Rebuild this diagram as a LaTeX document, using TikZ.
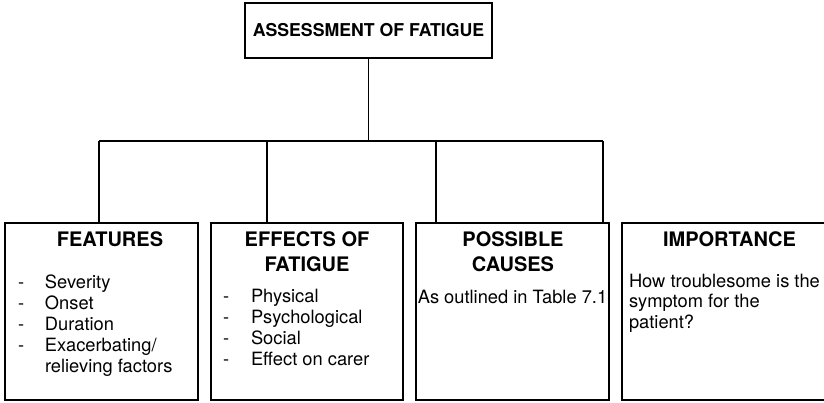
\documentclass[tikz,border=0pt]{standalone}
\usepackage{fontspec}
\setmainfont{TeX Gyre Heros}
\usetikzlibrary{positioning}
\begin{document}
\begin{tikzpicture}[x=1pt,y=-1pt,inner sep=0pt,outer sep=0pt,line width=1.8pt,
topblock/.style={draw,rectangle,minimum width=247pt,minimum height=55pt,font=\fontsize{17.7}{20}\selectfont\bfseries},
catblock/.style={draw,rectangle,minimum height=177pt,anchor=north west},
heading/.style={anchor=north,align=center,font=\fontsize{20}{25.5}\selectfont\bfseries},
itemlist/.style={anchor=north west,align=left,font=\fontsize{18.3}{21}\selectfont}]
\useasboundingbox (0,0) rectangle (824,402);
\node[topblock] (top) at (368.5,30.5) {ASSESSMENT OF FATIGUE};
\node[catblock,minimum width=193pt] (feat) at (5,223) {};
\node[catblock,minimum width=192pt] (eff) at (211,223) {};
\node[catblock,minimum width=193pt] (caus) at (416,223) {};
\node[catblock,minimum width=215pt] (imp) at (622,223) {};
% branches
\coordinate (b1) at (99,141);
\coordinate (b2) at (267,141);
\coordinate (b3) at (436,141);
\coordinate (b4) at (603,141);
\draw (top) -- (top |- b1);
\draw (b1) -- (b4);
\draw (b1) -- (b1 |- feat.north);
\draw (b2) -- (b2 |- eff.north);
\draw (b3) -- (b3 |- caus.north);
\draw (b4) -- (b4 |- imp.north);
% headings
\node[heading] (featH) at (110,231.6) {FEATURES};
\node[heading] (effH) at (307,231.6) {EFFECTS OF\\FATIGUE};
\node[heading] (causH) at (513,231.6) {POSSIBLE\\CAUSES};
\node[heading] (impH) at (729.5,231.6) {IMPORTANCE};
% contents
\node[itemlist] (featL) at (18,275) {\makebox[27pt][l]{-}Severity\\\makebox[27pt][l]{-}Onset\\\makebox[27pt][l]{-}Duration\\\makebox[27pt][l]{-}Exacerbating/\\\hspace*{27pt}relieving factors};
\node[itemlist] (effL) at (223,289) {\makebox[28pt][l]{-}Physical\\\makebox[28pt][l]{-}Psychological\\\makebox[28pt][l]{-}Social\\\makebox[28pt][l]{-}Effect on carer};
\node[itemlist,anchor=north] (causL) at (512.5,290) {As outlined in Table 7.1};
\node[itemlist,font=\fontsize{18.3}{20.5}\selectfont] (impL) at (629,274) {How troublesome is the\\symptom for the\\patient?};
\end{tikzpicture}
\end{document}
